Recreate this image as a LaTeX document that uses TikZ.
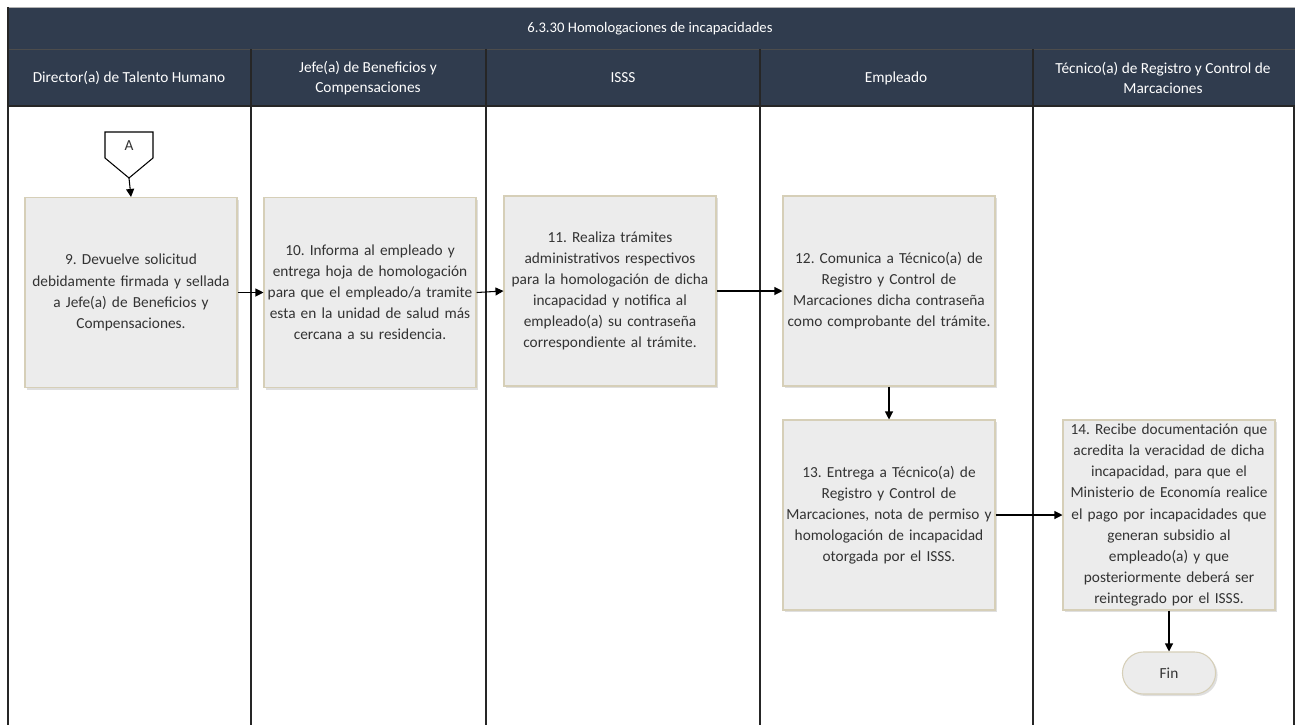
\documentclass[tikz,border=0pt]{standalone}
\usepackage{fontspec}
\setmainfont{Carlito}
\frenchspacing
\usetikzlibrary{calc,shapes.misc,shadows,arrows.meta}
\definecolor{hdr}{HTML}{303C4E}
\definecolor{boxfill}{HTML}{ECECEC}
\definecolor{boxline}{HTML}{D6CFB8}
\definecolor{txt}{HTML}{333333}
\tikzset{
  stepbox/.style={draw=boxline, fill=boxfill, line width=0.8pt, minimum width=159pt, minimum height=142.5pt,
    text width=158pt, align=center, inner sep=0.5pt, text=txt,
    font={\fontsize{11.5}{15.8}\selectfont\hyphenpenalty=10000\exhyphenpenalty=10000},
    drop shadow={shadow xshift=1.5pt, shadow yshift=-1.5pt, opacity=0.25, fill=gray}},
  endbox/.style={rounded rectangle, draw=boxline, fill=boxfill, line width=0.8pt, minimum width=76.5pt, minimum height=31.5pt,
    text=txt, font=\fontsize{11.5}{14}\selectfont,
    drop shadow={shadow xshift=1.5pt, shadow yshift=-1.5pt, opacity=0.25, fill=gray}},
  lanehead/.style={text=white, align=center, font=\fontsize{11.5}{15}\selectfont},
  flow/.style={-{Triangle[length=6pt,width=6pt]}, line width=0.8pt, black},
  lane/.style={line width=0.9pt, black!85}
}
\begin{document}
\begin{tikzpicture}[x=0.75pt,y=-0.75pt]
\useasboundingbox (0,0) rectangle (1295,725);
\fill[white] (0,0) rectangle (1295,725);
% header
\fill[hdr] (8,7) rectangle (1295,106);
\draw[line width=0.6pt, black!70] (8,49) -- (1295,49);
\draw[line width=0.6pt, gray!60] (8,7) -- (1295,7);
\node[lanehead, font=\fontsize{11}{14}\selectfont] (title) at (650,29) {6.3.30 Homologaciones de incapacidades};
\node[lanehead] (h1) at (129,78) {Director(a) de Talento Humano};
\node[lanehead] (h2) at (368,78) {Jefe(a) de Beneficios y\\Compensaciones};
\node[lanehead] (h3) at (623,78) {ISSS};
\node[lanehead] (h4) at (896,78) {Empleado};
\node[lanehead] (h5) at (1163,78) {Técnico(a) de Registro y Control de\\Marcaciones};
% lanes
\foreach \xx in {251,486,760,1033} {\draw[lane] (\xx,49) -- (\xx,725);}
\draw[lane] (8,7) -- (8,725);
\draw[lane] (1294,106) -- (1294,725);
\draw[lane] (8,106) -- (1295,106);
% off-page connector A
\draw[line width=0.8pt, fill=white] (105,132) -- (153,132) -- (153,158) -- (129,178) -- (105,158) -- cycle;
\node[text=txt, font=\fontsize{11.5}{14}\selectfont] (A) at (129,146) {A};
\coordinate (Atip) at (129,178);
% steps
\node[stepbox] (b9) at (131,292.5) {9. Devuelve solicitud\\debidamente firmada y sellada\\a Jefe(a) de Beneficios y\\Compensaciones.};
\node[stepbox] (b10) at (370,292.5) {10. Informa al empleado y\\entrega hoja de homologación\\para que el empleado/a tramite\\esta en la unidad de salud más\\cercana a su residencia.};
\node[stepbox] (b11) at (610,291) {11. Realiza trámites\\administrativos respectivos\\para la homologación de dicha\\incapacidad y notifica al\\empleado(a) su contraseña\\correspondiente al trámite.};
\node[stepbox] (b12) at (889,291) {12. Comunica a Técnico(a) de\\Registro y Control de\\Marcaciones dicha contraseña\\como comprobante del trámite.};
\node[stepbox] (b13) at (889,515) {13. Entrega a Técnico(a) de\\Registro y Control de\\Marcaciones, nota de permiso y\\homologación de incapacidad\\otorgada por el ISSS.};
\node[stepbox] (b14) at (1169,515) {14. Recibe documentación que\\acredita la veracidad de dicha\\incapacidad, para que el\\Ministerio de Economía realice\\el pago por incapacidades que\\generan subsidio al\\empleado(a) y que\\posteriormente deberá ser\\reintegrado por el ISSS.};
\node[endbox] (fin) at (1169,673) {Fin};
% connectors
\draw[flow] (Atip) -- (b9.north);
\draw[flow] (b9.east) -- (b10.west);
\draw[flow] (b10.east) -- (b11.west);
\draw[flow] (b11.east) -- (b12.west);
\draw[flow] (b12.south) -- (b13.north);
\draw[flow] (b13.east) -- (b14.west);
\draw[flow] (b14.south) -- (fin.north);
\end{tikzpicture}
\end{document}
